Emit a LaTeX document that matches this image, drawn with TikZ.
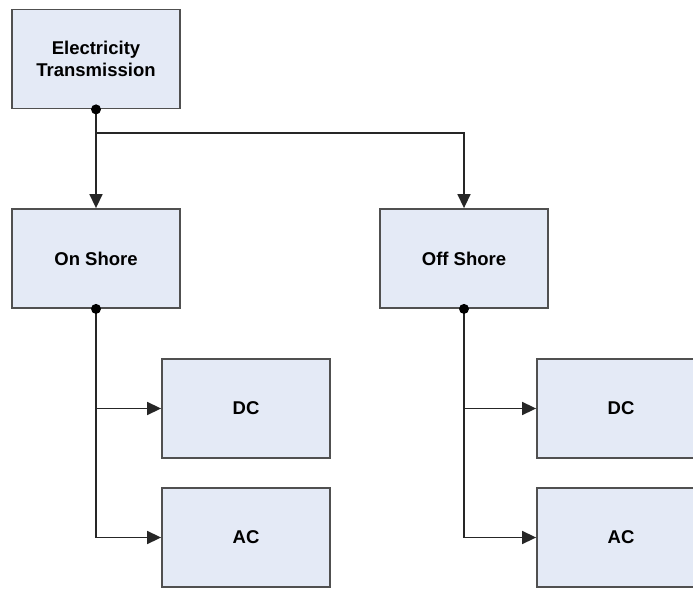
\documentclass[tikz,border=0pt]{standalone}
\usepackage{fontspec}
\setmainfont{Liberation Sans}
\usetikzlibrary{arrows.meta}
\definecolor{boxfill}{HTML}{E4EAF6}
\definecolor{boxline}{HTML}{505050}
\def\BoxW{168}
\def\BoxH{99}
\def\DotR{5}
\begin{document}
\begin{tikzpicture}[x=1pt,y=-1pt,
    block/.style={draw=boxline,fill=boxfill,line width=1.8pt,minimum width=\BoxW pt,
        minimum height=\BoxH pt,inner sep=0pt,align=center,
        font=\fontsize{18.5}{22}\selectfont\bfseries},
    link/.style={line width=1.5pt,draw=black!85},
    arr/.style={link,-{Triangle[length=14pt,width=13pt]}}]

% Page background and clipping
\useasboundingbox (0,0) rectangle (693,593);
\clip (0,0) rectangle (693,593);
\fill[white] (0,0) rectangle (693,593);

% =====================================================
% BLOCKS
% =====================================================
\node[block] (trans) at (96,59) {Electricity\\Transmission};

\node[block] (onshore) at (96,258.5) {On Shore};
\node[block] (offshore) at (464,258.5) {Off Shore};

\node[block] (dcon) at (246,408.5) {DC};
\node[block] (acon) at (246,537.5) {AC};

\node[block] (dcoff) at (621,408.5) {DC};
\node[block] (acoff) at (621,537.5) {AC};

% =====================================================
% CONNECTORS
% =====================================================
\coordinate (split) at (96,133);

\draw[arr] (trans.south) -- (onshore.north);
\draw[arr] (split) -| (offshore.north);

\draw[arr] (onshore.south) |- (dcon.west);
\draw[arr] (onshore.south) |- (acon.west);

\draw[arr] (offshore.south) |- (dcoff.west);
\draw[arr] (offshore.south) |- (acoff.west);

% Junction dots
\foreach \n in {trans,onshore,offshore} {
    \fill[black] (\n.south) circle (\DotR);
}

\end{tikzpicture}
\end{document}
